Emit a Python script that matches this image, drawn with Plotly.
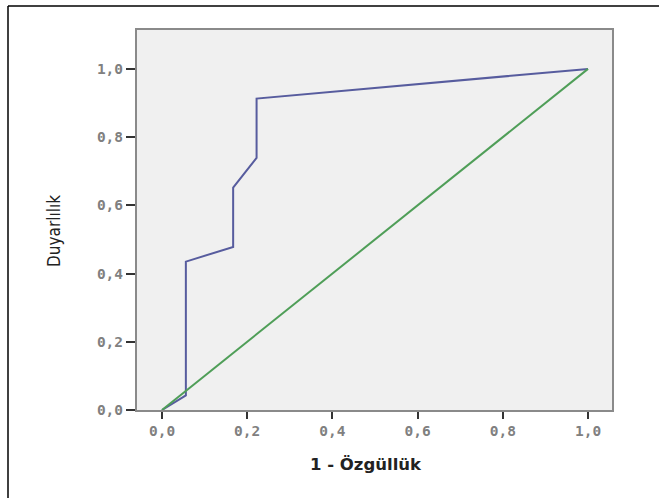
import plotly.graph_objects as go

# ROC curve data (1 - specificity vs sensitivity)
fpr = [0.0, 0.056, 0.056, 0.167, 0.167, 0.222, 0.222, 1.0]
tpr = [0.0, 0.043, 0.435, 0.478, 0.652, 0.739, 0.913, 1.0]
ref_x = [0.0, 1.0]
ref_y = [0.0, 1.0]

tick_vals = [0.0, 0.2, 0.4, 0.6, 0.8, 1.0]
x_tick_text = ["0,0", "0,2", "0,4", "0,6", "0,8", "1,0"]
y_tick_text = ["0,0", "0,2", "0,4", "0,6", "0,8", "1,0"]

x_title = "1 - Özgüllük"
y_title = "Duyarlılık"

fig = go.Figure()
fig.add_trace(go.Scatter(x=fpr, y=tpr, mode="lines",
                         line=dict(color="#575c9e", width=2), showlegend=False))
fig.add_trace(go.Scatter(x=ref_x, y=ref_y, mode="lines",
                         line=dict(color="#4f9e58", width=2), showlegend=False))

W, H = 659, 498
# plot area in page pixels: left 137, right 612, top 30, bottom 410
L, R, T, B = 137, 659 - 612, 30, 498 - 410
pw, ph = W - L - R, H - T - B

def px_x(p):
    return (p - L) / pw

def px_y(p):
    return (H - B - p) / ph

tickfont = dict(family="DejaVu Sans Mono", size=14.5, color="#808080", weight="bold")

fig.update_layout(
    width=W, height=H,
    margin=dict(l=L, r=R, t=T, b=B),
    paper_bgcolor="white",
    plot_bgcolor="#f0f0f0",
    xaxis=dict(range=[-0.0587, 1.0563], tickvals=tick_vals, ticktext=x_tick_text,
               showgrid=False, zeroline=False, showline=True, linecolor="#8a8a8a",
               linewidth=2, mirror=True, ticks="outside", ticklen=7, tickwidth=2,
               tickcolor="#333333", tickfont=tickfont),
    yaxis=dict(range=[0, 1.114], tickvals=tick_vals, ticktext=y_tick_text,
               showgrid=False, zeroline=False, showline=True, linecolor="#8a8a8a",
               linewidth=2, mirror=True, ticks="outside", ticklen=9, tickwidth=2,
               tickcolor="#333333", tickfont=tickfont),
    annotations=[
        dict(text=x_title, xref="paper", yref="paper", x=px_x(366), y=px_y(464),
             xanchor="center", yanchor="middle", showarrow=False,
             font=dict(family="DejaVu Sans", size=16.5, color="#222222", weight="bold")),
        dict(text=y_title, xref="paper", yref="paper", x=px_x(54), y=px_y(231),
             xanchor="center", yanchor="middle", showarrow=False, textangle=-90,
             font=dict(family="DejaVu Sans Condensed, Liberation Sans", size=17,
                       color="#222222")),
    ],
    shapes=[
        dict(type="line", xref="paper", yref="paper", x0=px_x(8), x1=px_x(8),
             y0=px_y(6), y1=px_y(520), line=dict(color="black", width=1.5)),
        dict(type="line", xref="paper", yref="paper", x0=px_x(8), x1=px_x(700),
             y0=px_y(6), y1=px_y(6), line=dict(color="black", width=1.5)),
    ],
)

fig.write_html("out.html", config={"displayModeBar": False},
               post_script="document.body.style.margin='0';document.body.style.padding='0';")
